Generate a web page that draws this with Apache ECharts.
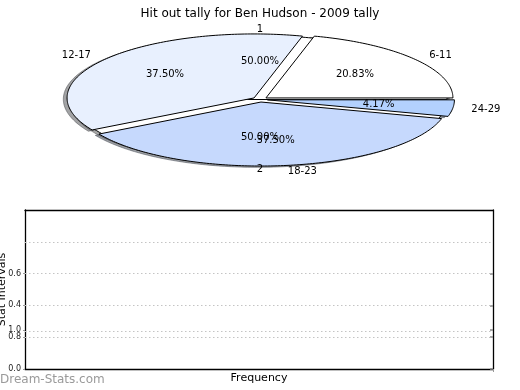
<!DOCTYPE html>
<html><head><meta charset="utf-8">
<script src="https://cdn.jsdelivr.net/npm/echarts@6/dist/echarts.min.js"></script>
<style>html,body{margin:0;padding:0;background:#fff}#c{width:520px;height:390px}</style>
</head><body><div id="c"></div>
<script>
// ---- data ----
const titleText = 'Hit out tally for Ben Hudson - 2009 tally';
const pieCats = ['6-11', '12-17', '18-23', '24-29'];
const pieVals = [5, 9, 9, 1];
const pieColors = ['#ffffff', '#e8f0fe', '#c6d9fd', '#b3d1fe'];
const pieExplode = [0.04, 0.04, 0.04, 0.04];
const pie2Cats = ['1', '2'];
const pie2Vals = [1, 1];
const pie2Colors = ['#ffffff', '#ffffff'];
const yTickPos = [0, 0.2, 0.245, 0.4, 0.6];
const yTickText = ['0.0', '0.8', '1.0', '0.4', '0.6'];
const yGridPos = [0.2, 0.245, 0.4, 0.6, 0.8];
const xTickPos = [1];
const xName = 'Frequency';
const yName = 'Stat Intervals';
const watermark = 'Dream-Stats.com';

// ---- helpers ----
function wedges(vals, explode, colors) {
  const total = vals.reduce((a, b) => a + b, 0);
  let acc = 0;
  return vals.map((v, i) => {
    const a0 = acc / total * 360; acc += v; const a1 = acc / total * 360;
    return { a0, a1, mid: (a0 + a1) / 2, frac: v / total, ex: explode ? explode[i] : 0, color: colors[i] };
  });
}
const W1 = wedges(pieVals, pieExplode, pieColors);
const W2 = wedges(pie2Vals, null, pie2Colors);
const ALLW = W2.concat(W1); // pie "1/2" drawn first (behind), then category pie
const RAD = Math.PI / 180;

function wedgePoints(api, w, dx, dy) {
  const m = w.mid * RAD;
  const ox = w.ex * Math.cos(m) + dx, oy = w.ex * Math.sin(m) + dy;
  const pts = [api.coord([ox, oy])];
  const n = Math.max(2, Math.ceil(w.a1 - w.a0));
  for (let k = 0; k <= n; k++) {
    const t = (w.a0 + (w.a1 - w.a0) * k / n) * RAD;
    pts.push(api.coord([ox + Math.cos(t), oy + Math.sin(t)]));
  }
  return pts;
}
function shadowColor(hex) {
  const r = parseInt(hex.substr(1, 2), 16), g = parseInt(hex.substr(3, 2), 16), b = parseInt(hex.substr(5, 2), 16);
  return 'rgba(' + Math.round(r * 0.3) + ',' + Math.round(g * 0.3) + ',' + Math.round(b * 0.3) + ',0.5)';
}
// label items: outer (1.1) and pct (0.6)
const labelItems = [];
[[W1, pieCats], [W2, pie2Cats]].forEach(([WW, cats]) => {
  WW.forEach((w, i) => {
    labelItems.push({ w, dist: 1.1, text: cats[i], outer: true });
    labelItems.push({ w, dist: 0.6, text: (w.frac * 100).toFixed(2) + '%', outer: false });
  });
});

const chart = echarts.init(document.getElementById('c'), null, { renderer: 'canvas' });
const FONT = 'DejaVu Sans';
const boxLine = { show: true, onZero: false, lineStyle: { color: '#000', width: 1.3 } };
const option = {
  animation: false,
  backgroundColor: '#ffffff',
  title: {
    text: titleText, left: 'center', top: 3,
    textStyle: { fontFamily: FONT, fontSize: 12, fontWeight: 'normal', color: '#000' }
  },
  graphic: [{
    type: 'text', left: 0, top: 374,
    style: { text: watermark, fill: '#9a9a9a', font: '12px "DejaVu Sans"' }
  }],
  grid: [
    { left: 73, top: 35.5, width: 374, height: 128, containLabel: false, outerBoundsMode: 'none' },
    { left: 25, top: 210, width: 468, height: 159, containLabel: false, outerBoundsMode: 'none' }
  ],
  xAxis: [
    { gridIndex: 0, type: 'value', min: -1, max: 1, show: false },
    {
      gridIndex: 1, type: 'value', min: 0, max: 1, position: 'bottom',
      axisLine: boxLine,
      axisTick: { show: true, customValues: xTickPos, length: 3, lineStyle: { color: '#999' } },
      axisLabel: { show: false }, splitLine: { show: false },
      name: xName, nameLocation: 'middle', nameGap: 4, nameMoveOverlap: false,
      nameTextStyle: { fontFamily: FONT, fontSize: 11, color: '#000', verticalAlign: 'top' }
    },
    {
      gridIndex: 1, type: 'value', min: 0, max: 1, position: 'top',
      axisLine: boxLine,
      axisTick: { show: false }, axisLabel: { show: false }, splitLine: { show: false }
    }
  ],
  yAxis: [
    { gridIndex: 0, type: 'value', min: -1, max: 1, show: false },
    {
      gridIndex: 1, type: 'value', min: 0, max: 1, position: 'left',
      axisLine: boxLine,
      axisTick: { show: true, customValues: yTickPos, length: 2, lineStyle: { color: '#999' } },
      axisLabel: {
        show: true, customValues: yTickPos, margin: 4,
        fontFamily: FONT, fontSize: 8, color: '#222',
        formatter: v => { const i = yTickPos.findIndex(p => Math.abs(p - v) < 1e-9); return i >= 0 ? yTickText[i] : ''; }
      },
      splitLine: { show: false },
      name: yName, nameLocation: 'middle', nameGap: 17, nameRotate: 90, nameMoveOverlap: false,
      nameTextStyle: { fontFamily: FONT, fontSize: 11, color: '#000' }
    },
    {
      gridIndex: 1, type: 'value', min: 0, max: 1, position: 'right',
      axisLine: boxLine,
      axisTick: { show: true, inside: true, customValues: yTickPos, length: 3, lineStyle: { color: '#888', width: 1.5 } },
      axisLabel: { show: false }, splitLine: { show: false }
    }
  ],
  series: [
    {
      type: 'custom', xAxisIndex: 0, yAxisIndex: 0, silent: true, z: 1,
      data: ALLW.map((w, i) => [i, 0]),
      renderItem: (params, api) => {
        const w = ALLW[params.dataIndex];
        return { type: 'polygon', shape: { points: wedgePoints(api, w, -0.02, -0.02) },
          style: { fill: shadowColor(w.color), stroke: shadowColor(w.color), lineWidth: 1 } };
      }
    },
    {
      type: 'custom', xAxisIndex: 0, yAxisIndex: 0, silent: true, z: 2,
      data: ALLW.map((w, i) => [i, 0]),
      renderItem: (params, api) => {
        const w = ALLW[params.dataIndex];
        return { type: 'polygon', shape: { points: wedgePoints(api, w, 0, 0) },
          style: { fill: w.color, stroke: '#000', lineWidth: 1 } };
      }
    },
    {
      type: 'custom', xAxisIndex: 0, yAxisIndex: 0, silent: true, z: 3,
      data: labelItems.map((l, i) => [i, 0]),
      renderItem: (params, api) => {
        const l = labelItems[params.dataIndex];
        const m = l.w.mid * RAD;
        const cx = Math.cos(m), sy = Math.sin(m);
        const p = api.coord([l.w.ex * cx + l.dist * cx, l.w.ex * sy + l.dist * sy]);
        const align = l.outer ? (cx > 1e-9 ? 'left' : (cx < -1e-9 ? 'right' : 'center')) : 'center';
        return { type: 'text', x: p[0], y: p[1],
          style: { text: l.text, fill: '#000', font: '10px "DejaVu Sans"', align: align, verticalAlign: 'middle' } };
      }
    },
    {
      type: 'line', xAxisIndex: 1, yAxisIndex: 1, data: [], silent: true,
      markLine: {
        silent: true, symbol: 'none', label: { show: false },
        lineStyle: { type: [1.5, 2.5], color: '#c4c4c4', width: 1 },
        data: yGridPos.map(v => ({ yAxis: v }))
      }
    }
  ]
};
chart.setOption(option);
</script>
</body></html>
